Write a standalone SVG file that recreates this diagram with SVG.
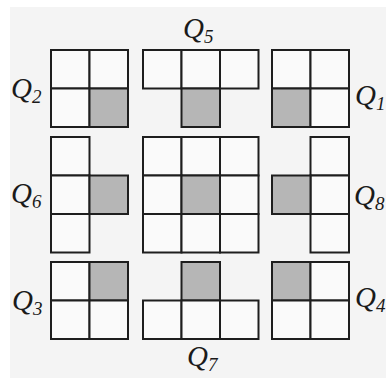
<svg xmlns="http://www.w3.org/2000/svg" width="386" height="380" viewBox="0 0 386 380">
<defs>
<style>
.c{fill:#fafafa;stroke:#1e1e1e;stroke-width:2}
.s{fill:#b6b6b6;stroke:#1e1e1e;stroke-width:2}
.q{font-family:"Liberation Serif","Times New Roman",serif;font-style:italic;font-size:29px;fill:#1a1a1a}
.n{font-size:19px}
</style>
</defs>
<rect x="0" y="0" width="386" height="380" fill="#ffffff"/>
<rect x="10" y="7" width="376" height="371" fill="#f4f4f4"/>
<g id="Q2">
<rect class="c" x="51" y="50" width="38.5" height="38.5"/><rect class="c" x="89.5" y="50" width="38.5" height="38.5"/>
<rect class="c" x="51" y="88.5" width="38.5" height="38.5"/><rect class="s" x="89.5" y="88.5" width="38.5" height="38.5"/>
</g>
<g id="Q5">
<rect class="c" x="143" y="50" width="38.5" height="38.5"/><rect class="c" x="181.5" y="50" width="38.5" height="38.5"/><rect class="c" x="220" y="50" width="38.5" height="38.5"/>
<rect class="s" x="181.5" y="88.5" width="38.5" height="38.5"/>
</g>
<g id="Q1">
<rect class="c" x="272" y="50" width="38.5" height="38.5"/><rect class="c" x="310.5" y="50" width="38.5" height="38.5"/>
<rect class="s" x="272" y="88.5" width="38.5" height="38.5"/><rect class="c" x="310.5" y="88.5" width="38.5" height="38.5"/>
</g>
<g id="Q6">
<rect class="c" x="51" y="137" width="38.5" height="38.5"/><rect class="c" x="51" y="175.5" width="38.5" height="38.5"/><rect class="c" x="51" y="214" width="38.5" height="38.5"/>
<rect class="s" x="89.5" y="175.5" width="38.5" height="38.5"/>
</g>
<g id="center">
<rect class="c" x="143" y="137" width="38.5" height="38.5"/><rect class="c" x="181.5" y="137" width="38.5" height="38.5"/><rect class="c" x="220" y="137" width="38.5" height="38.5"/>
<rect class="c" x="143" y="175.5" width="38.5" height="38.5"/><rect class="s" x="181.5" y="175.5" width="38.5" height="38.5"/><rect class="c" x="220" y="175.5" width="38.5" height="38.5"/>
<rect class="c" x="143" y="214" width="38.5" height="38.5"/><rect class="c" x="181.5" y="214" width="38.5" height="38.5"/><rect class="c" x="220" y="214" width="38.5" height="38.5"/>
</g>
<g id="Q8">
<rect class="c" x="310.5" y="137" width="38.5" height="38.5"/><rect class="c" x="310.5" y="175.5" width="38.5" height="38.5"/><rect class="c" x="310.5" y="214" width="38.5" height="38.5"/>
<rect class="s" x="272" y="175.5" width="38.5" height="38.5"/>
</g>
<g id="Q3">
<rect class="c" x="51" y="262" width="38.5" height="38.5"/><rect class="s" x="89.5" y="262" width="38.5" height="38.5"/>
<rect class="c" x="51" y="300.5" width="38.5" height="38.5"/><rect class="c" x="89.5" y="300.5" width="38.5" height="38.5"/>
</g>
<g id="Q7">
<rect class="s" x="181.5" y="262" width="38.5" height="38.5"/>
<rect class="c" x="143" y="300.5" width="38.5" height="38.5"/><rect class="c" x="181.5" y="300.5" width="38.5" height="38.5"/><rect class="c" x="220" y="300.5" width="38.5" height="38.5"/>
</g>
<g id="Q4">
<rect class="s" x="272" y="262" width="38.5" height="38.5"/><rect class="c" x="310.5" y="262" width="38.5" height="38.5"/>
<rect class="c" x="272" y="300.5" width="38.5" height="38.5"/><rect class="c" x="310.5" y="300.5" width="38.5" height="38.5"/>
</g>
<g id="labels">
<text class="q" font-style="italic" x="183" y="38">Q<tspan class="n" dy="5">5</tspan></text>
<text class="q" font-style="italic" x="11" y="98">Q<tspan class="n" dy="5">2</tspan></text>
<text class="q" font-style="italic" x="355" y="105">Q<tspan class="n" dy="5">1</tspan></text>
<text class="q" font-style="italic" x="11" y="203">Q<tspan class="n" dy="5">6</tspan></text>
<text class="q" font-style="italic" x="354" y="205">Q<tspan class="n" dy="5">8</tspan></text>
<text class="q" font-style="italic" x="12" y="310">Q<tspan class="n" dy="5">3</tspan></text>
<text class="q" font-style="italic" x="355" y="307">Q<tspan class="n" dy="5">4</tspan></text>
<text class="q" font-style="italic" x="187" y="366">Q<tspan class="n" dy="5">7</tspan></text>
</g>
</svg>
